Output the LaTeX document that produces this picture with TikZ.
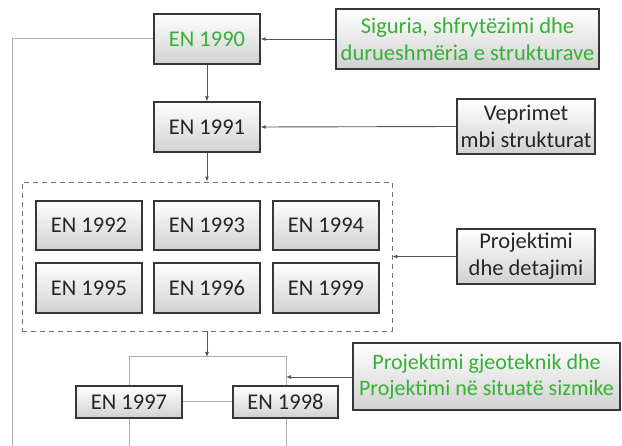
\documentclass[tikz,border=0pt]{standalone}
\usepackage{fontspec}
\setmainfont{Carlito}
\usetikzlibrary{arrows.meta}
\definecolor{txtgreen}{RGB}{52,178,52}
\definecolor{boxline}{RGB}{55,55,55}
\definecolor{conn}{RGB}{85,85,85}
\definecolor{lightconn}{RGB}{175,175,175}
\tikzset{
  enbox/.style={draw=boxline, line width=1.3pt, top color=white, bottom color=black!18,
    inner sep=0pt, align=center, font=\fontsize{22.5}{27}\selectfont, text=black!85},
  greentext/.style={text=txtgreen},
  arr/.style={draw=conn, line width=0.9pt, -{Latex[length=5pt,width=4pt]}},
  plainline/.style={draw=conn, line width=0.9pt},
  lightline/.style={draw=lightconn, line width=1pt},
  grpbox/.style={draw=black!55, dashed, dash pattern=on 5pt off 4pt, line width=0.8pt, inner sep=0pt}
}
\begin{document}
\begin{tikzpicture}[x=1pt,y=-1pt]
\useasboundingbox (0,0) rectangle (622,446);
% top row
\node[enbox, greentext, minimum width=106pt, minimum height=50pt] (en1990) at (207,39) {EN 1990};
\node[enbox, greentext, minimum width=263pt, minimum height=60pt] (sig) at (467.5,39) {Siguria, shfrytëzimi dhe\\durueshmëria e strukturave};
\node[enbox, minimum width=106pt, minimum height=50pt] (en1991) at (207,127) {EN 1991};
\node[enbox, minimum width=138pt, minimum height=55pt] (vep) at (526,126.5) {Veprimet\\mbi strukturat};
% group
\node[grpbox, minimum width=370pt, minimum height=149pt] (grp) at (207,256.5) {};
\node[enbox, minimum width=106pt, minimum height=49pt] (en1992) at (89,225.5) {EN 1992};
\node[enbox, minimum width=106pt, minimum height=49pt] (en1993) at (207,225.5) {EN 1993};
\node[enbox, minimum width=106pt, minimum height=49pt] (en1994) at (326,225.5) {EN 1994};
\node[enbox, minimum width=106pt, minimum height=50pt] (en1995) at (89,288) {EN 1995};
\node[enbox, minimum width=106pt, minimum height=50pt] (en1996) at (207,288) {EN 1996};
\node[enbox, minimum width=106pt, minimum height=50pt] (en1999) at (326,288) {EN 1999};
\node[enbox, minimum width=138pt, minimum height=55pt] (proj) at (526,256.5) {Projektimi\\dhe detajimi};
% bottom
\node[enbox, minimum width=106pt, minimum height=32pt] (en1997) at (129,402) {EN 1997};
\node[enbox, minimum width=105pt, minimum height=32pt] (en1998) at (285.5,402) {EN 1998};
\node[enbox, greentext, minimum width=267pt, minimum height=67pt, font=\fontsize{22}{26.5}\selectfont] (geo) at (486.5,376.5) {Projektimi gjeoteknik dhe\\Projektimi në situatë sizmike};
\coordinate (fl) at (129,357);
\coordinate (fr) at (286,357);
\coordinate (fm) at (207,357);
\coordinate (geoin) at (286,377);
\coordinate (lefttop) at (12,39);
\coordinate (leftbot) at (12,446);
\coordinate (flb) at (129,446);
\coordinate (frb) at (286,446);
% frame lines (light)
\begin{scope}[on background layer/.style={}]
\draw[lightline] (flb) -- (fl) -- (fr) -- (frb);
\draw[lightline] (en1997.east) -- (en1998.west);
\draw[lightline] (en1990.west) -- (lefttop) -- (leftbot);
\end{scope}
% redraw boxes over frame lines
\node[enbox, minimum width=106pt, minimum height=32pt] at (en1997) {EN 1997};
\node[enbox, minimum width=105pt, minimum height=32pt] at (en1998) {EN 1998};
% connectors
\draw[arr] (sig.west) -- (en1990.east);
\draw[arr] (en1990.south) -- (en1991.north);
\draw[arr] (vep.west) -- (en1991.east);
\draw[arr] (en1991.south) -- (grp.north);
\draw[arr] (proj.west) -- (grp.east |- proj.west);
\draw[arr] (grp.south) -- (fm);
\draw[arr] (geo.west |- geoin) -- (geoin);
\end{tikzpicture}
\end{document}
